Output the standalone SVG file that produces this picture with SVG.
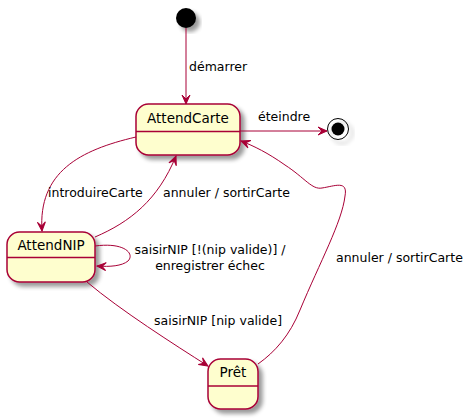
<svg xmlns="http://www.w3.org/2000/svg" width="474" height="419" viewBox="0 0 474 419">
<style>
.st{fill:#FEFECE;stroke:#A80036;stroke-width:1.5;filter:url(#sh)}
.dv{stroke:#A80036;stroke-width:1.5}
.nm{font-family:"DejaVu Sans",sans-serif;font-size:13.5px;fill:#000;text-anchor:middle}
.lb{font-family:"DejaVu Sans",sans-serif;font-size:12.5px;fill:#000}
.cn{fill:none;stroke:#A80036;stroke-width:1;marker-end:url(#ah)}
</style>
<defs>
<filter id="sh" x="-20%" y="-20%" width="150%" height="150%">
<feGaussianBlur in="SourceAlpha" stdDeviation="2"/>
<feOffset dx="4" dy="4" result="b"/>
<feComponentTransfer><feFuncA type="linear" slope="0.4"/></feComponentTransfer>
<feMerge><feMergeNode/><feMergeNode in="SourceGraphic"/></feMerge>
</filter>
<marker id="ah" markerWidth="12" markerHeight="10" refX="10" refY="5" orient="auto" markerUnits="userSpaceOnUse">
<path d="M10,5 L1,1 L5,5 L1,9 Z" fill="#A80036" stroke="#A80036" stroke-width="1"/>
</marker>
</defs>
<g id="start"><circle cx="186" cy="18" r="10" fill="#000" filter="url(#sh)"/></g>
<g id="end"><circle cx="338" cy="129" r="10.5" fill="none" stroke="#000" stroke-width="1" filter="url(#sh)"/><circle cx="338" cy="129" r="6.5" fill="#000"/></g>
<g id="AttendCarte"><rect class="st" x="136" y="104" width="104" height="51" rx="12.5"/><line class="dv" x1="136" y1="131.5" x2="240" y2="131.5"/><text class="nm" x="188" y="123">AttendCarte</text></g>
<g id="AttendNIP"><rect class="st" x="7" y="232" width="88" height="50" rx="12.5"/><line class="dv" x1="7" y1="257.5" x2="95" y2="257.5"/><text class="nm" x="51" y="250">AttendNIP</text></g>
<g id="Pret"><rect class="st" x="208" y="359" width="50" height="50" rx="12.5"/><line class="dv" x1="208" y1="386" x2="258" y2="386"/><text class="nm" x="233" y="377">Prêt</text></g>
<g id="connectors">
<path class="cn" d="M186,28 L186,104"/>
<text class="lb" x="189" y="71">démarrer</text>
<path class="cn" d="M240,131 L327,131"/>
<text class="lb" x="258" y="121">éteindre</text>
<path class="cn" d="M136,137 C80,150 38,172 42,231"/>
<text class="lb" x="48" y="197">introduireCarte</text>
<path class="cn" d="M95,237 C130,222 158,200 176,156"/>
<text class="lb" x="163" y="197">annuler / sortirCarte</text>
<path class="cn" d="M95,246 C125,242 135,254 128,261 C122,266 110,267 97,266"/>
<text class="lb" x="210" y="254" text-anchor="middle">saisirNIP [!(nip valide)] /</text>
<text class="lb" x="210" y="270" text-anchor="middle">enregistrer échec</text>
<path class="cn" d="M87,282 C120,310 175,345 208,366"/>
<text class="lb" x="154" y="325">saisirNIP [nip valide]</text>
<path class="cn" d="M258,364 C275,352 290,335 300,310 C320,262 342,222 345,196 C348,180 335,186 322,188 C312,190 305,178 285,165 C268,153 254,146 241,141"/>
<text class="lb" x="336" y="262">annuler / sortirCarte</text>
</g>
</svg>
